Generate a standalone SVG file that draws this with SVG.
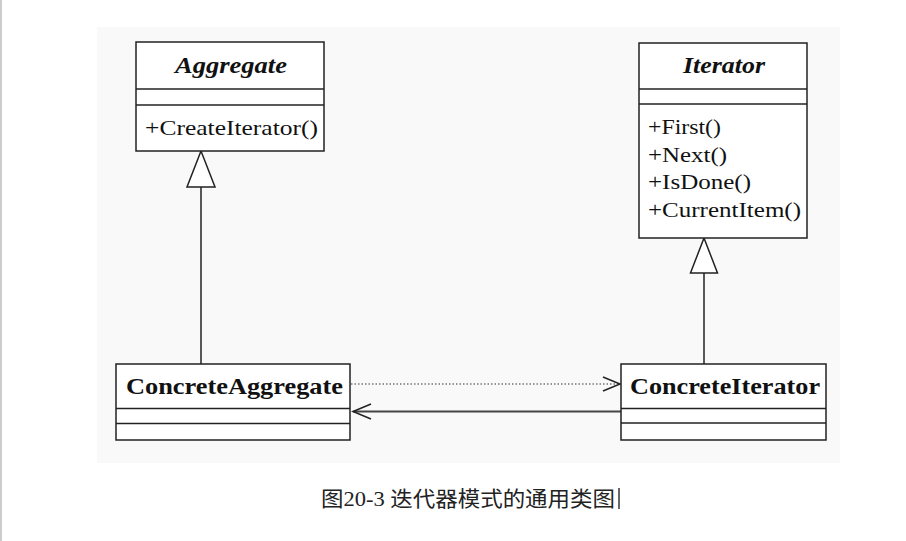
<svg xmlns="http://www.w3.org/2000/svg" width="906" height="541" viewBox="0 0 906 541">
<style>
.box{fill:#ffffff;stroke:#222;stroke-width:1.5}
.div{stroke:#222;stroke-width:1.5}
.t{font-family:"Liberation Serif","Times New Roman","DejaVu Serif",serif;fill:#111}
.ti{font-size:23px;font-weight:bold;font-style:italic}
.tb{font-size:23px;font-weight:bold}
.m{font-size:22px}
.line{stroke:#222;stroke-width:1.5;fill:none}
.tri{fill:#ffffff;stroke:#222;stroke-width:1.5}
</style>
<rect x="0" y="0" width="906" height="541" fill="#ffffff"/>
<rect x="97" y="27" width="743" height="436" fill="#f9f9f9"/>
<line x1="1" y1="0" x2="1" y2="541" stroke="#cccccc" stroke-width="2"/>
<g id="connectors">
<line class="line" x1="201" y1="187" x2="201" y2="364"/>
<polygon class="tri" points="201,151 187,187 215,187"/>
<line class="line" x1="704" y1="273" x2="704" y2="364"/>
<polygon class="tri" points="704,238 690.5,273 717.5,273"/>
<line x1="351" y1="384" x2="620" y2="384" stroke="#333" stroke-width="1.2" stroke-dasharray="1.5,2"/>
<polyline class="line" points="603,377 620,384 603,391"/>
<line x1="353" y1="411.5" x2="621" y2="411.5" stroke="#444" stroke-width="2"/>
<polyline class="line" points="371,404 353,411.5 371,419"/>
</g>
<g id="Aggregate">
<rect class="box" x="136" y="42" width="188" height="109"/>
<line class="div" x1="136" y1="89" x2="324" y2="89"/>
<line class="div" x1="136" y1="105" x2="324" y2="105"/>
<text class="t ti" x="175" y="73" textLength="112" lengthAdjust="spacingAndGlyphs">Aggregate</text>
<text class="t m" x="145" y="135" textLength="173" lengthAdjust="spacingAndGlyphs">+CreateIterator()</text>
</g>
<g id="Iterator">
<rect class="box" x="639" y="43" width="168" height="195"/>
<line class="div" x1="639" y1="89" x2="807" y2="89"/>
<line class="div" x1="639" y1="104" x2="807" y2="104"/>
<text class="t ti" x="683" y="73" textLength="82" lengthAdjust="spacingAndGlyphs">Iterator</text>
<text class="t m" x="648" y="134" textLength="73" lengthAdjust="spacingAndGlyphs">+First()</text>
<text class="t m" x="648" y="161.5" textLength="79" lengthAdjust="spacingAndGlyphs">+Next()</text>
<text class="t m" x="648" y="189" textLength="103" lengthAdjust="spacingAndGlyphs">+IsDone()</text>
<text class="t m" x="648" y="216.5" textLength="153" lengthAdjust="spacingAndGlyphs">+CurrentItem()</text>
</g>
<g id="ConcreteAggregate">
<rect class="box" x="116" y="364" width="234" height="76"/>
<line class="div" x1="116" y1="408.5" x2="350" y2="408.5"/>
<line class="div" x1="116" y1="423.5" x2="350" y2="423.5"/>
<text class="t tb" x="126" y="394" textLength="217" lengthAdjust="spacingAndGlyphs">ConcreteAggregate</text>
</g>
<g id="ConcreteIterator">
<rect class="box" x="621" y="364" width="205" height="76"/>
<line class="div" x1="621" y1="408.5" x2="826" y2="408.5"/>
<line class="div" x1="621" y1="423" x2="826" y2="423"/>
<text class="t tb" x="630" y="394" textLength="190" lengthAdjust="spacingAndGlyphs">ConcreteIterator</text>
</g>
<g id="caption">
<text x="321" y="506" font-family="'Liberation Serif','DejaVu Serif','Noto Sans CJK SC',serif" font-size="21" fill="#222" textLength="294" lengthAdjust="spacingAndGlyphs">图20-3 迭代器模式的通用类图</text>
<line x1="619" y1="488" x2="619" y2="509" stroke="#000" stroke-width="1.2"/>
</g>
</svg>
